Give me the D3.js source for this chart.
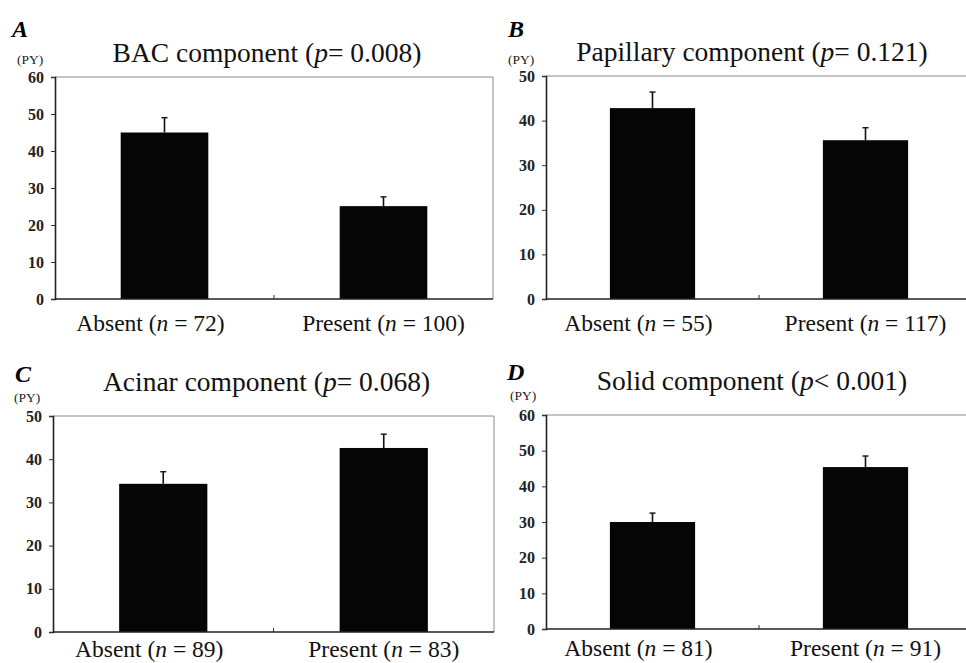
<!DOCTYPE html>
<html>
<head>
<meta charset="utf-8">
<script src="https://cdn.jsdelivr.net/npm/d3@7"></script>
</head>
<body style="margin:0;background:#fff">
<div id="chart"></div>
<script>
// panel data
const panelLetters = ["A", "B", "C", "D"];
const titleNames = ["BAC component", "Papillary component", "Acinar component", "Solid component"];
const pSigns = ["=", "=", "=", "<"];
const pValues = ["0.008", "0.121", "0.068", "0.001"];
const categories = ["Absent", "Present"];
const nAbsent = [72, 55, 89, 81];
const nPresent = [100, 117, 83, 91];
const meanAbsent = [45.0, 42.8, 34.3, 30.0];
const meanPresent = [25.1, 35.6, 42.6, 45.4];
const errAbsent = [4.0, 3.6, 2.8, 2.5];
const errPresent = [2.5, 2.8, 3.2, 3.1];
const yMax = [60, 50, 50, 60];
const yUnit = "(PY)";

const FONT = "Liberation Serif";
const BASE = 28; // text is drawn at this size and scaled down

// where each panel's plot box sits on the page
const boxes = [
    { left: 55, top: 77, right: 493, bottom: 299, titleY: 62, letterX: 12, letterY: 37, unitX: 17, unitY: 64, labelY: 331 },
    { left: 546, top: 76, right: 972, bottom: 299, titleY: 61, letterX: 508, letterY: 37, unitX: 508, unitY: 64, labelY: 331 },
    { left: 53, top: 416, right: 494, bottom: 632, titleY: 391, letterX: 15, letterY: 382, unitX: 14, unitY: 402, labelY: 657 },
    { left: 546, top: 415, right: 972, bottom: 629, titleY: 390, letterX: 507, letterY: 380, unitX: 510, unitY: 400, labelY: 656 }
];

const svg = d3.select("#chart").append("svg")
    .attr("width", 966)
    .attr("height", 663)
    .attr("font-family", FONT)
    .style("display", "block");

function addText(parent, x, y, size, anchor) {
    return parent.append("g")
        .attr("transform", `translate(${x},${y}) scale(${size / BASE})`)
        .append("text")
        .attr("font-family", FONT)
        .attr("font-size", BASE)
        .attr("text-anchor", anchor || "start")
        .attr("fill", "#111");
}

panelLetters.forEach((letter, i) => drawPanel(i));

function drawPanel(i) {
    const b = boxes[i];
    const g = svg.append("g");

    const x = d3.scaleBand()
        .domain(categories)
        .range([b.left, b.right])
        .paddingInner(0.6)
        .paddingOuter(0.3);

    const y = d3.scaleLinear()
        .domain([0, yMax[i]])
        .range([b.bottom, b.top]);

    const bars = categories.map((c, j) => ({
        cat: c,
        mean: j === 0 ? meanAbsent[i] : meanPresent[i],
        err: j === 0 ? errAbsent[i] : errPresent[i],
        n: j === 0 ? nAbsent[i] : nPresent[i]
    }));

    // light frame on top and right
    g.append("path")
        .attr("d", `M${b.left},${b.top}H${b.right}V${b.bottom}`)
        .attr("fill", "none")
        .attr("stroke", "#8a8a8a")
        .attr("stroke-width", 1);

    // error bars (drawn first so the bar covers the lower part)
    bars.forEach(d => {
        const cx = x(d.cat) + x.bandwidth() / 2;
        g.append("line")
            .attr("x1", cx).attr("x2", cx)
            .attr("y1", y(d.mean)).attr("y2", y(d.mean + d.err))
            .attr("stroke", "#111").attr("stroke-width", 1.6);
        g.append("line")
            .attr("x1", cx - 3).attr("x2", cx + 3)
            .attr("y1", y(d.mean + d.err)).attr("y2", y(d.mean + d.err))
            .attr("stroke", "#111").attr("stroke-width", 1.4);
    });

    g.selectAll("rect.bar")
        .data(bars)
        .enter()
        .append("rect")
        .attr("class", "bar")
        .attr("x", d => x(d.cat))
        .attr("width", x.bandwidth())
        .attr("y", d => y(d.mean))
        .attr("height", d => y(0) - y(d.mean))
        .attr("fill", "#050505");

    // y axis (lines from d3, labels drawn below)
    const yAxis = g.append("g")
        .attr("transform", `translate(${b.left},0)`)
        .call(d3.axisLeft(y).ticks(yMax[i] / 10).tickSize(4).tickFormat(""));
    yAxis.select(".domain").attr("stroke", "#222").attr("stroke-width", 1.6);
    yAxis.selectAll(".tick line").attr("stroke", "#333");
    y.ticks(yMax[i] / 10).forEach(v => {
        addText(g, b.left - 11, y(v) + 5.5, 16, "end")
            .attr("font-weight", "bold")
            .attr("fill", "#222")
            .text(v);
    });

    // x baseline with a small mark between the groups
    g.append("line")
        .attr("x1", b.left).attr("x2", b.right)
        .attr("y1", b.bottom).attr("y2", b.bottom)
        .attr("stroke", "#222").attr("stroke-width", 1.6);
    const mid = (b.left + b.right) / 2;
    g.append("line")
        .attr("x1", mid).attr("x2", mid)
        .attr("y1", b.bottom).attr("y2", b.bottom - 4)
        .attr("stroke", "#333").attr("stroke-width", 1);

    // category labels
    bars.forEach((d, j) => {
        const t = addText(g, x(d.cat) + x.bandwidth() / 2 - (j === 0 ? 14 : 0), b.labelY, 23.5, "middle");
        t.append("tspan").text(d.cat + " (");
        t.append("tspan").attr("font-style", "italic").text("n");
        t.append("tspan").text(" = " + d.n + ")");
    });

    // title
    const title = addText(g, mid - 7, b.titleY, 27.5, "middle");
    title.append("tspan").text(titleNames[i] + " (");
    title.append("tspan").attr("font-style", "italic").text("p");
    title.append("tspan").text(pSigns[i] + " " + pValues[i] + ")");

    // panel letter and unit
    addText(g, b.letterX, b.letterY, 24)
        .attr("font-weight", "bold")
        .attr("font-style", "italic")
        .attr("fill", "#000")
        .text(panelLetters[i]);

    addText(g, b.unitX, b.unitY, 13.5)
        .attr("fill", "#222")
        .text(yUnit);
}
</script>
</body>
</html>
